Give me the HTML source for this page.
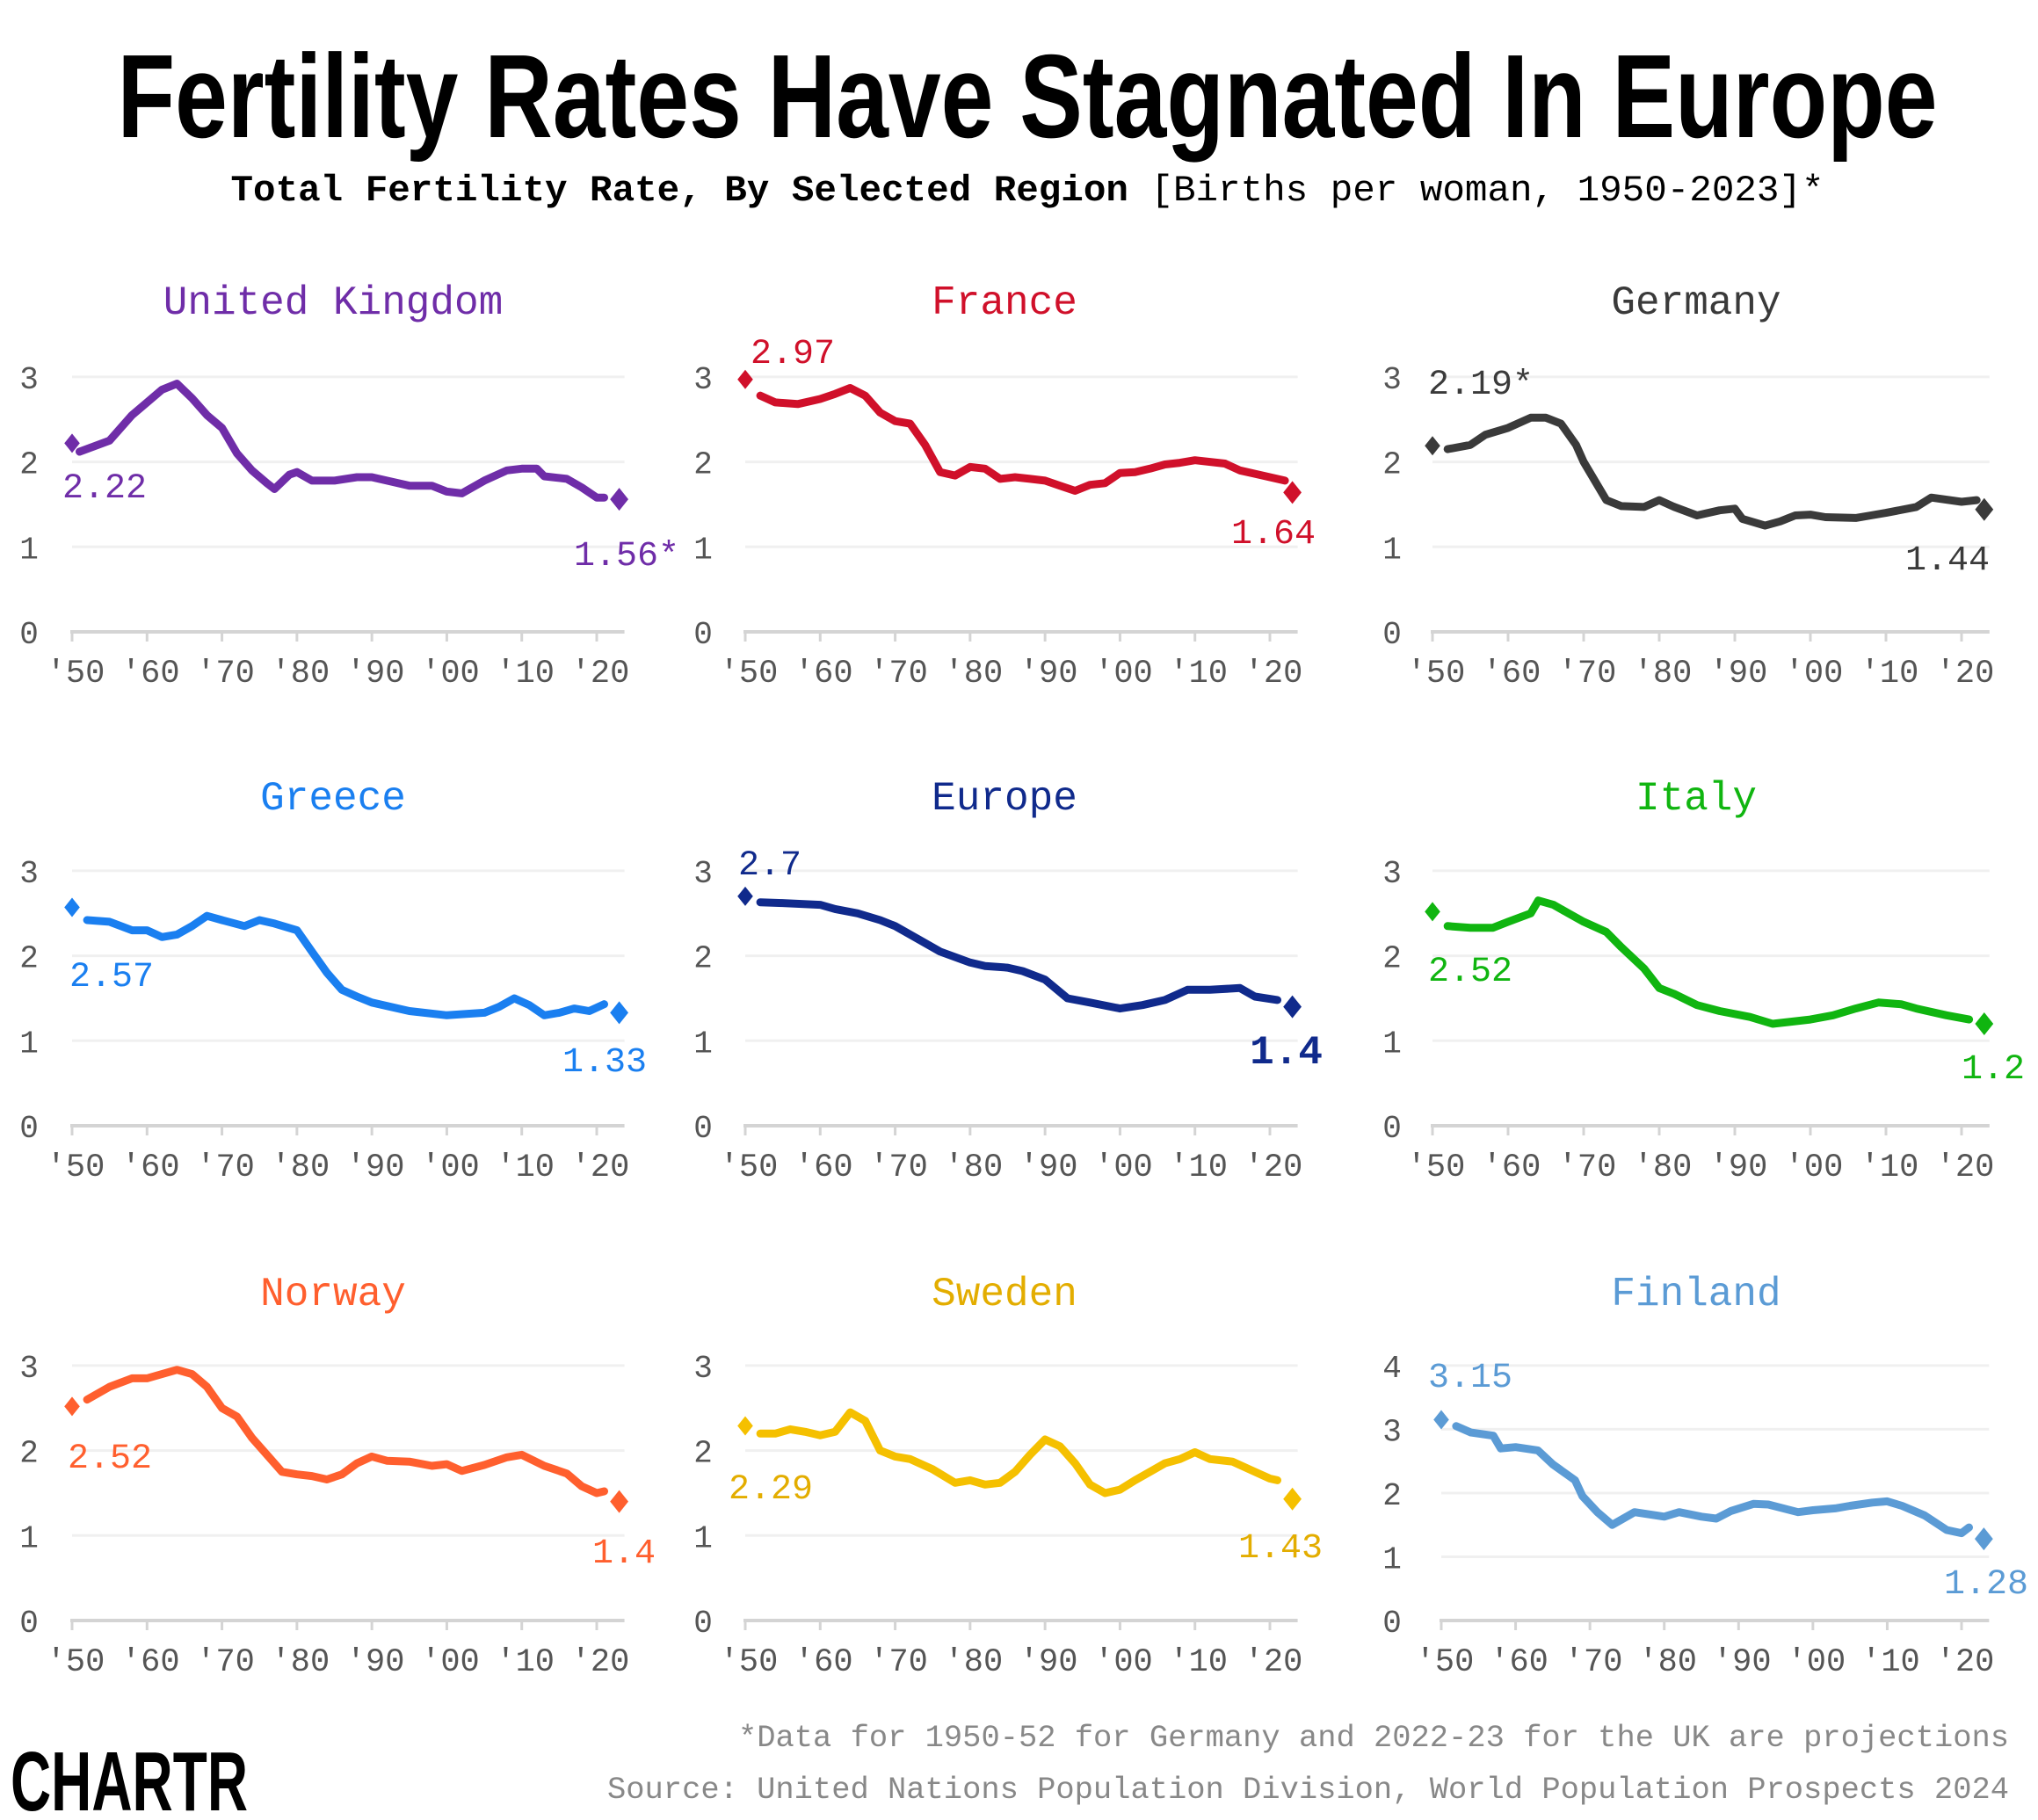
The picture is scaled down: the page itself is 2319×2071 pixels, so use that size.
<!DOCTYPE html>
<html><head><meta charset="utf-8">
<style>
html,body{margin:0;padding:0;background:#fff;}
svg{display:block;}
</style></head>
<body>
<svg id="s" width="2319" height="2071" viewBox="0 0 2319 2071" xmlns="http://www.w3.org/2000/svg">
<rect width="2319" height="2071" fill="#fff"/>
<text x="1169" y="156" text-anchor="middle" font-family="Liberation Sans, sans-serif" font-weight="bold" font-size="135" textLength="2071" lengthAdjust="spacingAndGlyphs" fill="#000">Fertility Rates Have Stagnated In Europe</text>
<text x="1169" y="228" text-anchor="middle" font-family="Liberation Mono, monospace" font-size="42" textLength="1813" lengthAdjust="spacingAndGlyphs" fill="#000"><tspan font-weight="bold">Total Fertility Rate, By Selected Region</tspan> [Births per woman, 1950-2023]*</text>
<text x="2286" y="1987" text-anchor="end" font-family="Liberation Mono, monospace" font-size="35" textLength="1446" lengthAdjust="spacingAndGlyphs" fill="#888">*Data for 1950-52 for Germany and 2022-23 for the UK are projections</text>
<text x="2286" y="2046" text-anchor="end" font-family="Liberation Mono, monospace" font-size="35" textLength="1595" lengthAdjust="spacingAndGlyphs" fill="#888">Source: United Nations Population Division, World Population Prospects 2024</text>
<text x="12" y="2060" font-family="Liberation Sans, sans-serif" font-weight="bold" font-size="96" textLength="270" lengthAdjust="spacingAndGlyphs" fill="#000">CHARTR</text>
<g id="g"></g>
</svg>
<script>
var NS="http://www.w3.org/2000/svg";
var g=document.getElementById('g');
function el(t,a,txt){var e=document.createElementNS(NS,t);for(var k in a)e.setAttribute(k,a[k]);if(txt!==undefined)e.textContent=txt;g.appendChild(e);return e;}
var cols=[{x0:82,x1:679,yl:33,cx:379},{x0:848,x1:1445,yl:800,cx:1143},{x0:1630,x1:2232,yl:1584,cx:1930}];
var rows=[{t:341,y0:719,u:96.7},{t:905,y0:1281,u:96.7},{t:1469,y0:1844,u:96.7}];
var P=[
{n:"United Kingdom",c:"#6f2da8",max:3,d:[1950,2.22,1951,2.12,1955,2.25,1958,2.55,1960,2.7,1962,2.85,1964,2.92,1966,2.75,1968,2.55,1970,2.4,1972,2.1,1974,1.9,1976,1.75,1977,1.68,1979,1.85,1980,1.88,1982,1.78,1985,1.78,1988,1.82,1990,1.82,1992,1.78,1995,1.72,1998,1.72,2000,1.65,2002,1.63,2005,1.78,2008,1.9,2010,1.92,2012,1.92,2013,1.83,2016,1.8,2018,1.7,2020,1.58,2021,1.58,2023,1.56],
 a:{t:"2.22",x:71,y:566},b:{t:"1.56*",x:773,y:643}},
{n:"France",c:"#d0102a",max:3,d:[1950,2.97,1952,2.78,1954,2.7,1957,2.68,1960,2.74,1962,2.8,1964,2.87,1966,2.78,1968,2.58,1970,2.48,1972,2.45,1974,2.2,1976,1.88,1978,1.84,1980,1.94,1982,1.92,1984,1.8,1986,1.82,1988,1.8,1990,1.78,1992,1.72,1994,1.66,1996,1.73,1998,1.75,2000,1.87,2002,1.88,2004,1.92,2006,1.97,2008,1.99,2010,2.02,2014,1.98,2016,1.9,2018,1.86,2020,1.82,2022,1.78,2023,1.64],
 a:{t:"2.97",x:854,y:413},b:{t:"1.64",x:1497,y:618}},
{n:"Germany",c:"#3a3a3a",max:3,d:[1950,2.19,1952,2.15,1955,2.2,1957,2.32,1960,2.4,1963,2.52,1965,2.52,1967,2.45,1969,2.2,1970,2.0,1972,1.7,1973,1.55,1975,1.48,1978,1.47,1980,1.55,1982,1.47,1985,1.37,1988,1.43,1990,1.45,1991,1.33,1994,1.25,1996,1.3,1998,1.37,2000,1.38,2002,1.35,2006,1.34,2008,1.37,2010,1.4,2014,1.47,2016,1.58,2020,1.53,2022,1.55,2023,1.44],
 a:{t:"2.19*",x:1625,y:448},b:{t:"1.44",x:2264,y:648}},
{n:"Greece",c:"#1a7ff0",max:3,d:[1950,2.57,1952,2.42,1955,2.4,1958,2.3,1960,2.3,1962,2.22,1964,2.25,1966,2.35,1968,2.47,1970,2.42,1973,2.35,1975,2.42,1977,2.38,1980,2.3,1982,2.05,1984,1.8,1986,1.6,1988,1.52,1990,1.45,1995,1.35,2000,1.3,2005,1.33,2007,1.4,2009,1.5,2011,1.42,2013,1.3,2015,1.33,2017,1.38,2019,1.35,2021,1.43,2023,1.33],
 a:{t:"2.57",x:79,y:1122},b:{t:"1.33",x:736,y:1219}},
{n:"Europe",c:"#102a8c",max:3,d:[1950,2.7,1952,2.63,1955,2.62,1960,2.6,1962,2.55,1965,2.5,1968,2.42,1970,2.35,1973,2.2,1976,2.05,1980,1.92,1982,1.88,1985,1.86,1987,1.82,1990,1.72,1993,1.5,1996,1.45,2000,1.38,2003,1.42,2006,1.48,2009,1.6,2012,1.6,2016,1.62,2018,1.52,2021,1.48,2023,1.4],
 a:{t:"2.7",x:840,y:995},b:{t:"1.4",x:1505,y:1210,bold:1}},
{n:"Italy",c:"#10b510",max:3,d:[1950,2.52,1952,2.35,1955,2.33,1958,2.33,1960,2.4,1963,2.5,1964,2.65,1966,2.6,1968,2.5,1970,2.4,1973,2.28,1975,2.1,1978,1.85,1980,1.62,1982,1.55,1985,1.42,1988,1.35,1992,1.28,1995,1.2,2000,1.25,2003,1.3,2006,1.38,2009,1.45,2012,1.43,2014,1.38,2018,1.3,2021,1.25,2023,1.2],
 a:{t:"2.52",x:1625,y:1116},b:{t:"1.2",x:2304,y:1227}},
{n:"Norway",c:"#ff5f2e",max:3,d:[1950,2.52,1952,2.6,1955,2.75,1958,2.85,1960,2.85,1962,2.9,1964,2.95,1966,2.9,1968,2.75,1970,2.5,1972,2.4,1974,2.15,1976,1.95,1978,1.75,1980,1.72,1982,1.7,1984,1.66,1986,1.72,1988,1.85,1990,1.93,1992,1.88,1995,1.87,1998,1.82,2000,1.84,2002,1.76,2005,1.83,2008,1.92,2010,1.95,2013,1.82,2016,1.73,2018,1.58,2020,1.5,2021,1.52,2023,1.4],
 a:{t:"2.52",x:77,y:1670},b:{t:"1.4",x:746,y:1778}},
{n:"Sweden",c:"#f5c000",lc:"#e3ad00",max:3,d:[1950,2.29,1952,2.2,1954,2.2,1956,2.25,1958,2.22,1960,2.18,1962,2.22,1964,2.45,1966,2.35,1968,2.0,1970,1.93,1972,1.9,1975,1.78,1978,1.62,1980,1.65,1982,1.6,1984,1.62,1986,1.75,1988,1.95,1990,2.13,1992,2.05,1994,1.85,1996,1.6,1998,1.5,2000,1.54,2002,1.65,2004,1.75,2006,1.85,2008,1.9,2010,1.98,2012,1.9,2015,1.87,2018,1.75,2020,1.67,2021,1.65,2023,1.43],
 a:{t:"2.29",x:829,y:1705},b:{t:"1.43",x:1505,y:1772}},
{n:"Finland",c:"#5b9bd5",max:4,d:[1950,3.15,1952,3.05,1954,2.95,1957,2.9,1958,2.7,1960,2.72,1963,2.67,1965,2.45,1968,2.2,1969,1.95,1971,1.7,1973,1.5,1976,1.7,1980,1.63,1982,1.7,1985,1.63,1987,1.6,1989,1.72,1992,1.83,1994,1.82,1998,1.7,2000,1.73,2003,1.76,2005,1.8,2008,1.85,2010,1.87,2012,1.8,2015,1.65,2018,1.42,2020,1.37,2021,1.46,2023,1.28],
 a:{t:"3.15",x:1625,y:1578},b:{t:"1.28",x:2308,y:1813}}
];
P.forEach(function(p,i){
 var C=cols[i%3],R=rows[Math.floor(i/3)];
 var x0=C.x0,x1=C.x1; if(p.n=="Finland"){x0=1640;}
 var u=p.max==4?R.u*3/4:R.u;
 var X=function(y){return x0+(y-1950)*(x1-x0)/70;};
 var Y=function(v){return R.y0-v*u;};
 var xe=X(2023)+6;
 el('text',{x:C.cx,y:R.t+16,'text-anchor':'middle','font-family':'Liberation Mono, monospace','font-size':46,fill:p.lc||p.c},p.n);
 for(var k=1;k<=p.max;k++){el('line',{x1:x0,x2:xe,y1:Y(k),y2:Y(k),stroke:'#f0f0f0','stroke-width':3});}
 for(var k=0;k<=p.max;k++){el('text',{x:C.yl,y:Y(k)+13,'text-anchor':'middle','font-family':'Liberation Mono, monospace','font-size':36,fill:'#555'},String(k));}
 el('line',{x1:x0-2,x2:xe,y1:R.y0,y2:R.y0,stroke:'#d4d4d4','stroke-width':4});
 var labs=["'50","'60","'70","'80","'90","'00","'10","'20"];
 for(var j=0;j<8;j++){var tx=X(1950+10*j);
  el('line',{x1:tx,x2:tx,y1:R.y0,y2:R.y0+11,stroke:'#d4d4d4','stroke-width':3});
  el('text',{x:tx+4,y:R.y0+57,'text-anchor':'middle','font-family':'Liberation Mono, monospace','font-size':37,fill:'#555'},labs[j]);}
 var pts=[];var d=p.d;
 for(var j=2;j<d.length-2;j+=2){pts.push(X(d[j]).toFixed(1)+','+Y(d[j+1]).toFixed(1));}
 el('polyline',{points:pts.join(' '),fill:'none',stroke:p.c,'stroke-width':9,'stroke-linejoin':'round','stroke-linecap':'round'});
 function dia(x,y,s){el('polygon',{points:(x)+','+(y-s)+' '+(x+s*0.8)+','+y+' '+x+','+(y+s)+' '+(x-s*0.8)+','+y,fill:p.c});}
 dia(X(1950),Y(d[1]),11);
 dia(X(2023),Y(d[d.length-1]),13);
 el('text',{x:p.a.x,y:p.a.y,'text-anchor':'start','font-family':'Liberation Mono, monospace','font-size':40,fill:p.lc||p.c},p.a.t);
 el('text',{x:p.b.x,y:p.b.y,'text-anchor':'end','font-family':'Liberation Mono, monospace','font-size':p.b.bold?46:40,'font-weight':p.b.bold?'bold':'normal',fill:p.lc||p.c},p.b.t);
});
</script>
</body></html>
